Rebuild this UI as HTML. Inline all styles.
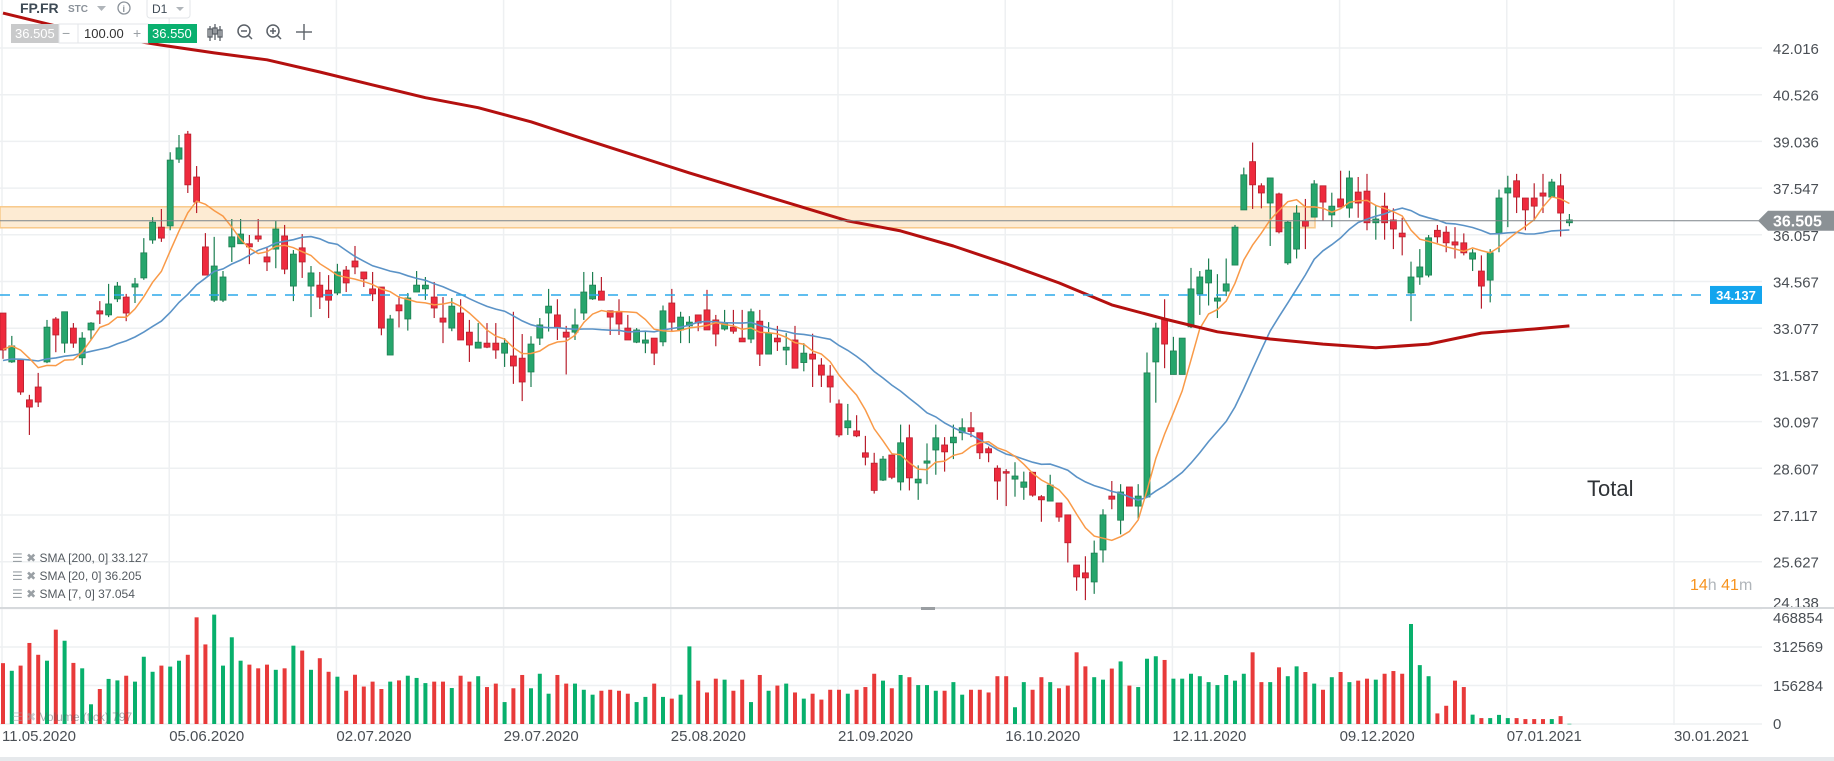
<!DOCTYPE html>
<html><head><meta charset="utf-8">
<style>
html,body{margin:0;padding:0;background:#fff;overflow:hidden}
svg{display:block;font-family:"Liberation Sans",sans-serif}
</style></head>
<body>
<svg id="chart" width="1834" height="761" viewBox="0 0 1834 761" xmlns="http://www.w3.org/2000/svg">
  <rect x="0" y="0" width="1834" height="761" fill="#ffffff"/>
  <g id="grid"></g>
  <g id="band"></g>
  <g id="vol"></g>
  <g id="candles"></g>
  <g id="smas"></g>
  <g id="axes"></g>
  <g id="overlay"></g>
</svg>
<script>
const open=[33.56,32.0,32.06,30.79,31.2,32.0,33.37,32.6,33.08,32.13,
33.02,33.63,33.5,34.01,34.07,34.39,34.68,35.89,36.3,36.34,
38.47,39.27,37.9,35.67,33.97,33.97,35.67,35.77,35.77,36.02,
35.35,35.6,36.02,34.42,35.64,34.42,34.45,34.29,34.2,34.93,
35.22,34.87,34.33,34.39,32.22,33.82,33.37,34.23,34.33,34.07,
33.4,33.08,33.56,32.95,32.44,32.6,32.6,32.28,32.19,32.12,
31.68,32.76,33.56,33.5,32.95,32.95,33.56,34.01,34.26,33.63,
33.6,33.08,32.63,32.6,32.76,32.64,33.88,33.02,33.15,33.5,
33.66,33.34,33.05,33.11,32.76,32.73,33.3,32.25,32.76,32.38,
32.7,31.98,32.25,31.9,31.55,30.66,29.9,29.8,29.1,28.77,
28.23,29.03,28.17,29.58,28.14,28.77,29.19,29.35,29.42,29.74,
29.9,29.74,29.23,28.61,28.5,28.26,28.0,28.48,27.7,27.56,
27.5,27.12,25.52,25.27,24.98,26.0,27.72,26.95,28.01,27.4,
27.69,32.0,33.37,31.6,31.6,33.12,34.17,34.52,33.94,34.26,
35.09,36.85,38.39,37.62,37.07,37.36,35.16,35.6,36.5,36.62,
37.62,36.69,37.2,36.91,37.42,37.45,36.44,36.97,36.53,36.11,
34.2,34.71,34.77,36.2,36.14,35.83,35.8,35.28,34.9,34.61,
36.11,37.39,37.78,37.23,37.23,37.39,37.26,37.62,36.44];
const close=[32.38,32.51,31.04,30.56,30.72,33.11,32.86,33.6,32.6,32.76,
33.24,33.53,33.85,34.42,33.56,34.49,35.48,36.46,35.95,38.44,
38.83,37.65,37.1,34.77,35.06,34.71,35.99,36.08,35.67,35.92,
35.19,36.24,34.96,35.44,35.19,34.84,34.07,33.97,34.87,34.52,
35.03,34.65,34.17,33.08,33.37,33.63,34.04,34.45,34.45,33.72,
33.27,33.78,32.7,32.54,32.63,32.47,32.38,32.6,31.87,31.36,
32.57,33.18,33.78,33.08,32.79,33.18,34.23,34.45,33.97,33.43,
33.21,32.7,33.02,32.7,32.28,33.63,33.27,33.43,33.27,33.24,
33.02,32.89,33.24,32.98,32.64,33.6,32.25,32.92,32.64,32.47,
31.8,32.28,32.09,31.58,31.2,29.67,30.12,29.64,28.96,27.9,
28.9,28.32,29.42,28.3,28.26,28.84,29.58,29.13,29.6,29.9,
29.78,29.1,29.1,28.2,28.45,28.36,28.17,27.75,27.6,28.07,
27.05,26.23,25.14,25.11,25.9,27.12,27.62,27.85,27.4,27.72,
31.65,33.08,32.57,32.35,32.76,34.33,34.71,34.93,34.04,34.49,
36.3,37.97,37.65,37.39,37.87,36.15,36.46,36.75,36.33,37.68,
37.1,36.97,36.94,37.87,37.07,36.44,36.56,36.44,36.24,35.99,
34.71,35.03,35.96,35.99,35.8,35.73,35.48,35.48,34.42,35.48,
37.23,37.55,37.26,36.85,36.97,37.29,37.74,36.75,36.53];
const high=[33.56,32.83,32.1,30.95,31.65,33.34,33.43,33.6,33.24,32.95,
33.27,33.94,34.49,34.55,34.17,34.68,35.95,36.62,36.88,38.69,
39.24,39.37,38.25,36.11,35.99,34.9,36.56,36.56,36.05,36.56,
35.67,36.5,36.37,35.57,36.08,35.06,34.87,34.77,35.13,35.06,
35.7,34.87,34.87,34.39,33.5,34.1,34.2,34.9,34.71,34.55,
34.07,34.04,34.0,33.34,33.24,33.24,33.24,32.76,33.6,32.89,
32.82,33.4,34.33,34.0,33.15,33.7,34.87,34.87,34.71,33.63,
34.0,33.5,33.08,33.0,32.76,33.8,34.33,33.6,33.46,33.5,
34.3,33.5,33.66,33.66,33.66,33.7,33.66,33.27,33.15,32.92,
33.15,32.6,32.9,32.12,31.9,30.8,30.66,30.3,29.64,29.1,
29.0,29.03,30.0,30.0,28.7,29.4,30.0,29.6,30.0,30.2,
30.4,29.74,29.3,28.7,28.58,28.8,28.5,28.5,27.75,28.4,
27.5,27.12,25.52,25.8,26.3,27.3,28.2,28.1,28.01,28.1,
32.3,33.25,34.0,32.8,32.76,35.0,34.9,35.3,34.8,35.3,
36.37,38.2,39.0,37.7,37.87,37.4,36.5,37.0,37.2,37.8,
37.62,37.4,38.1,38.1,37.9,38.0,37.0,37.4,36.9,36.6,
35.2,35.6,36.05,36.37,36.33,36.3,36.1,35.6,35.4,35.6,
37.5,37.94,38.0,37.23,37.7,38.0,37.84,38.0,36.72];
const low=[32.1,31.97,30.95,29.67,30.56,31.96,32.31,32.29,32.45,31.9,
32.7,33.21,33.43,33.91,33.3,33.88,34.62,35.77,35.83,36.2,
38.35,37.39,36.75,34.77,33.91,33.91,35.19,35.77,35.12,35.83,
34.9,34.99,34.8,33.94,34.68,33.43,33.69,33.4,34.13,34.23,
34.8,34.39,33.94,32.85,32.22,33.1,33.0,34.23,33.98,33.4,
32.6,32.98,32.7,32.0,32.44,32.44,32.1,31.84,31.3,30.75,
31.2,32.54,32.97,32.7,31.6,32.7,33.34,33.98,33.97,32.86,
32.86,32.7,32.6,32.28,31.9,32.5,33.0,32.6,32.6,32.98,
33.02,32.5,33.0,32.9,32.64,32.6,31.87,32.25,32.35,31.9,
31.8,31.7,31.2,31.2,30.7,29.6,29.67,29.6,28.7,27.8,
28.2,28.26,27.9,27.9,27.6,28.1,28.4,28.5,28.9,29.5,
29.6,28.9,28.8,27.6,27.4,27.7,27.6,27.7,26.9,27.56,
26.9,25.6,24.7,24.4,24.6,25.6,27.3,26.5,27.4,27.0,
27.69,30.7,31.8,31.6,31.6,33.08,33.5,33.8,33.4,34.1,
35.09,36.85,36.88,36.9,35.7,36.1,35.1,35.3,35.6,36.62,
36.5,36.3,36.94,36.6,36.6,36.2,35.9,35.9,35.6,35.4,
33.3,34.46,34.7,35.8,35.5,35.3,35.4,34.9,33.7,33.9,
35.5,36.3,36.75,36.2,36.5,36.75,37.26,36.0,36.33];
const volumeK=[247,216,237,329,281,257,383,338,248,226,
80,142,183,177,196,172,273,212,237,233,
257,281,433,323,444,237,352,257,241,226,
241,220,226,318,298,220,267,212,192,135,
200,152,172,142,172,177,196,187,166,172,
172,146,196,172,194,150,164,89,145,199,
145,204,123,199,164,164,139,119,135,139,
135,123,89,110,164,110,103,119,315,176,
128,184,180,135,180,89,199,135,156,164,
128,103,123,99,139,139,123,139,150,204,
176,145,199,190,158,158,135,135,170,119,
139,139,128,194,194,68,170,139,190,170,
145,156,291,234,190,180,225,254,156,150,
265,275,260,184,184,204,194,170,158,199,
176,204,291,170,170,230,194,234,211,164,
139,190,211,170,176,184,180,204,215,204,
406,239,194,43,74,176,150,38,24,24,
37,24,24,20,20,20,20,32,0.797];
const priorCloses=[31.5,31.2,31.0,31.4,31.8,32.2,32.5,32.0,31.6,31.9,32.3,32.6,32.1,31.7,32.0,32.4,32.8,32.6,32.9];
const sma200Idx=[0,6,12,18,24,30,36,42,48,54,60,66,72,78,84,90,96,102,108,114,120,126,132,138,144,150,156,162,168,174,178];
const sma200=[43.13,42.72,42.37,42.11,41.86,41.64,41.25,40.84,40.43,40.11,39.66,39.11,38.57,38.03,37.52,37.01,36.5,36.18,35.7,35.13,34.52,33.82,33.37,32.96,32.73,32.57,32.45,32.57,32.92,33.05,33.15];
const priceTicks=["42.016","40.526","39.036","37.547","36.057","34.567","33.077","31.587","30.097","28.607","27.117","25.627","24.138"];
const volTicks=["468854","312569","156284","0"];
const dateLabels=["11.05.2020","05.06.2020","02.07.2020","29.07.2020","25.08.2020","21.09.2020","16.10.2020","12.11.2020","09.12.2020","07.01.2021","30.01.2021"];
const lastPrice=36.505, hLine=34.137, bandTop=36.95, bandBot=36.28;

const NS="http://www.w3.org/2000/svg";
const PLOT_R=1762, PTOP=48, PSTEP=46.7, PMAX=42.016, PINC=1.49;
function yP(p){return PTOP+(PMAX-p)/PINC*PSTEP;}
function xI(i){return 3+8.8*i;}
const VBASE=724, VMAX=468854, VH=115.5;
function yV(v){return VBASE-v/VMAX*VH;}
function mk(tag,attrs,parent){const e=document.createElementNS(NS,tag);for(const k in attrs)e.setAttribute(k,attrs[k]);parent.appendChild(e);return e;}
const G=id=>document.getElementById(id);
const GREEN="#26a56c",GREEN_D="#1d7f52",RED="#ee2a3d",RED_D="#b8202e";

const grid=G('grid');
priceTicks.forEach((t,k)=>{const l=mk('line',{x1:0,x2:PLOT_R,y1:yP(PMAX-k*PINC),y2:yP(PMAX-k*PINC),stroke:"#eef0f2","stroke-width":1.5},grid);

});
volTicks.forEach((t,k)=>{const l=mk('line',{x1:0,x2:PLOT_R,y1:yV(VMAX-k*156284.67),y2:yV(VMAX-k*156284.67),stroke:"#eef0f2","stroke-width":1.5},grid);

});
dateLabels.forEach((d,k)=>{const x=xI(19*k)-1;const l=mk('line',{x1:x,x2:x,y1:0,y2:725,stroke:"#eef0f2","stroke-width":1.5},grid);

});

const band=G('band');
const br=mk('rect',{x:0,y:yP(bandTop),width:1315,height:yP(bandBot)-yP(bandTop),fill:"#fdebd3",stroke:"#f8c98a","stroke-width":1.5},band);



const vol=G('vol');
volumeK.forEach((v,i)=>{const up=close[i]>=open[i];const y=yV(v*1000);
const r=mk('rect',{x:xI(i)-2,y:y,width:4,height:Math.max(0.5,VBASE-y),fill:up?"#08b06c":"#e83a3a"},vol);

});

const cg=G('candles');
for(let i=0;i<close.length;i++){const up=close[i]>=open[i];const x=xI(i);
const w=mk('line',{x1:x,x2:x,y1:yP(high[i]),y2:yP(low[i]),stroke:up?GREEN_D:RED_D,"stroke-width":1.2},cg);


const t=yP(Math.max(open[i],close[i])),b=yP(Math.min(open[i],close[i]));
const r=mk('rect',{x:x-3,y:t,width:6,height:Math.max(1.5,b-t),fill:up?GREEN:RED,stroke:up?GREEN_D:RED_D,"stroke-width":0.8},cg);

}

const all=priorCloses.concat(close);const off=priorCloses.length;
function smaPts(n){const pts=[];for(let i=0;i<close.length;i++){let s=0;for(let k=0;k<n;k++)s+=all[i+off-k];pts.push(xI(i).toFixed(1)+","+yP(s/n).toFixed(1));}return pts.join(" ");}
const sg=G('smas');
const s20=mk('polyline',{points:smaPts(20),fill:"none",stroke:"#5b93c7","stroke-width":1.6},sg);


const s7=mk('polyline',{points:smaPts(7),fill:"none",stroke:"#f99a48","stroke-width":1.5},sg);


const s200=mk('polyline',{points:sma200Idx.map((ix,k)=>xI(ix).toFixed(1)+","+yP(sma200[k]).toFixed(1)).join(" "),fill:"none",stroke:"#b4100f","stroke-width":3,"stroke-linejoin":"round"},sg);



const ax=G('axes');
priceTicks.forEach((t,k)=>{const yy=k===priceTicks.length-1?608:yP(PMAX-k*PINC)+6;const tx=mk('text',{x:1773,y:yy,"font-size":15,fill:"#4a4f55"},ax);tx.textContent=t;

});
volTicks.forEach((t,k)=>{const yy=[623,652,691,729][k];const tx=mk('text',{x:1773,y:yy,"font-size":15,fill:"#4a4f55"},ax);tx.textContent=t;

});
dateLabels.forEach((d,k)=>{const tx=mk('text',{x:xI(19*k)-1,y:741,"font-size":15,fill:"#4a4f55"},ax);tx.textContent=d;

});
const sep=mk('rect',{x:0,y:607,width:1834,height:2,fill:"#d6d9dc"},ax);


const hd=mk('rect',{x:921,y:607,width:14,height:3,fill:"#9a9ea2"},ax);


const bb=mk('rect',{x:0,y:757,width:1834,height:4,fill:"#e6e9ec"},ax);



const ov=G('overlay');
const lp=mk('line',{x1:0,x2:1762,y1:yP(lastPrice),y2:yP(lastPrice),stroke:"#7d8489","stroke-width":1},ov);


const lpb=mk('polygon',{points:`1758,${yP(lastPrice)} 1768,${yP(lastPrice)-10} 1834,${yP(lastPrice)-10} 1834,${yP(lastPrice)+10} 1768,${yP(lastPrice)+10}`,fill:"#8b9195"},ov);


const lpt=mk('text',{x:1773,y:yP(lastPrice)+6,"font-size":16,fill:"#fff","font-weight":"bold"},ov);lpt.textContent=lastPrice.toFixed(3);


const hl=mk('line',{x1:0,x2:1710,y1:yP(hLine),y2:yP(hLine),stroke:"#2ba9ea","stroke-width":1.5,"stroke-dasharray":"10,9"},ov);


const hb=mk('rect',{x:1710,y:yP(hLine)-9,width:52,height:18,fill:"#13a5ee"},ov);


const ht=mk('text',{x:1736,y:yP(hLine)+5,"font-size":13,fill:"#fff","text-anchor":"middle","font-weight":"bold"},ov);ht.textContent=hLine.toFixed(3);


</script>
<svg style="position:absolute;left:0;top:0" width="1834" height="761">
  <g font-family="Liberation Sans, sans-serif">
    <text x="20" y="13" font-size="14" font-weight="bold" fill="#3e4a55">FP.FR</text>
    <text x="68" y="12" font-size="10" font-weight="bold" fill="#8a9199">STC</text>
    <polygon points="97,6 106,6 101.5,11" fill="#b0b5ba"/>
    <circle cx="124" cy="8" r="6" fill="none" stroke="#8a9199" stroke-width="1.3"/>
    <text x="122.5" y="12" font-size="9" font-weight="bold" fill="#8a9199">i</text>
    <rect x="147" y="-2" width="43" height="20" rx="3" fill="#fff" stroke="#e3e6e9"/>
    <text x="152" y="13" font-size="12" fill="#3e4a55">D1</text>
    <polygon points="176,7 184,7 180,11" fill="#b0b5ba"/>
    <rect x="11" y="24" width="48" height="19" fill="#c9cacb"/>
    <text x="15" y="38" font-size="13" fill="#fff">36.505</text>
    <rect x="59" y="24" width="89" height="19" fill="#fff" stroke="#e3e6e9"/>
    <text x="62" y="38" font-size="14" fill="#9aa0a5">−</text>
    <line x1="78" y1="24" x2="78" y2="43" stroke="#e3e6e9"/>
    <text x="84" y="38" font-size="13" fill="#333">100.00</text>
    <text x="133" y="38" font-size="14" fill="#9aa0a5">+</text>
    <rect x="148" y="24" width="49" height="19" fill="#0ab06f"/>
    <text x="152" y="38" font-size="13" fill="#fff">36.550</text>
    <g stroke="#5b6168" stroke-width="1.3" fill="none">
      <line x1="210" y1="26" x2="210" y2="41"/><rect x="208" y="29" width="4" height="8"/>
      <line x1="215" y1="24" x2="215" y2="40"/><rect x="213" y="28" width="4" height="6"/>
      <line x1="220" y1="26" x2="220" y2="41"/><rect x="218" y="30" width="4" height="7"/>
    </g>
    <g stroke="#5b6168" stroke-width="1.5" fill="none">
      <circle cx="244" cy="31" r="6"/><line x1="248" y1="35" x2="252" y2="39"/><line x1="241" y1="31" x2="247" y2="31"/>
    </g>
    <g stroke="#5b6168" stroke-width="1.5" fill="none">
      <circle cx="273" cy="31" r="6"/><line x1="277" y1="35" x2="281" y2="39"/><line x1="270" y1="31" x2="276" y2="31"/><line x1="273" y1="28" x2="273" y2="34"/>
    </g>
    <g stroke="#5b6168" stroke-width="1.4" fill="none">
      <line x1="304" y1="24" x2="304" y2="40"/><line x1="296" y1="32" x2="312" y2="32"/>
    </g>
    <g font-size="12" fill="#555b61">
      <text x="12" y="562"><tspan fill="#9aa0a5">☰ ✖ </tspan>SMA [200, 0] 33.127</text>
      <text x="12" y="580"><tspan fill="#9aa0a5">☰ ✖ </tspan>SMA [20, 0] 36.205</text>
      <text x="12" y="598"><tspan fill="#9aa0a5">☰ ✖ </tspan>SMA [7, 0] 37.054</text>
      <text x="12" y="721" fill-opacity="0.5"><tspan fill="#9aa0a5">☰ ✖ </tspan>Volume (tick) 797</text>
    </g>
    <text x="1587" y="496" font-size="22" fill="#2f3337">Total</text>
    <text x="1690" y="590" font-size="16"><tspan fill="#f7931e">14</tspan><tspan fill="#b0b5ba">h </tspan><tspan fill="#f7931e">41</tspan><tspan fill="#b0b5ba">m</tspan></text>
  </g>
</svg>
</body></html>
